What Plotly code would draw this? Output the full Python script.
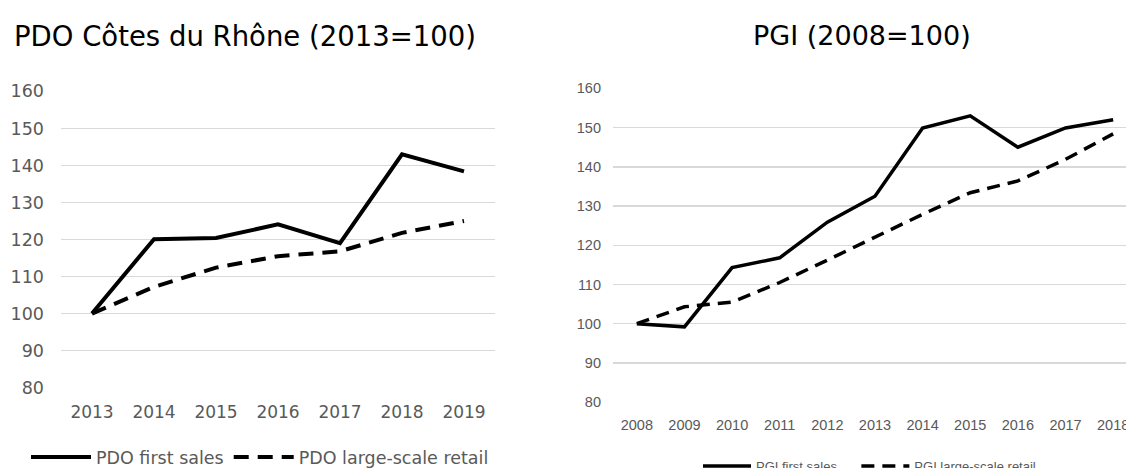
import plotly.graph_objects as go

# ---- data ----
pdo_years = ["2013", "2014", "2015", "2016", "2017", "2018", "2019"]
pdo_first_sales = [100, 120.1, 120.4, 124.1, 119.0, 143.0, 138.4]
pdo_large_retail = [100, 107.2, 112.4, 115.5, 116.8, 121.8, 125.0]

pgi_years = ["2008", "2009", "2010", "2011", "2012", "2013", "2014", "2015", "2016", "2017", "2018"]
pgi_first_sales = [100, 99.2, 114.3, 116.8, 125.9, 132.5, 149.9, 153.0, 145.0, 149.9, 152.0]
pgi_large_retail = [100, 104.3, 105.5, 110.5, 116.2, 122.0, 127.9, 133.4, 136.4, 141.9, 148.4]

y_ticks = [80, 90, 100, 110, 120, 130, 140, 150, 160]

left_title = "PDO Côtes du Rhône (2013=100)"
right_title = "PGI (2008=100)"

W, H = 1126, 468
FONT_L = "DejaVu Sans, Verdana, sans-serif"
FONT_R = "Liberation Sans Narrow, Liberation Sans, sans-serif"
GRAY = "#595959"
GRID = "#d9d9d9"
NBSP = "\u00a0"

fig = go.Figure()

fig.add_trace(go.Scatter(x=pdo_years, y=pdo_first_sales, mode="lines", name="PDO first sales",
                         line=dict(color="black", width=4), xaxis="x", yaxis="y", legend="legend"))
fig.add_trace(go.Scatter(x=pdo_years, y=pdo_large_retail, mode="lines", name="PDO large-scale retail",
                         line=dict(color="black", width=4, dash="15px,9px"), xaxis="x", yaxis="y", legend="legend"))
fig.add_trace(go.Scatter(x=pgi_years, y=pgi_first_sales, mode="lines", name="PGI first sales" + NBSP * 4,
                         line=dict(color="black", width=3.5), xaxis="x2", yaxis="y2", legend="legend2"))
fig.add_trace(go.Scatter(x=pgi_years, y=pgi_large_retail, mode="lines", name="PGI large-scale retail",
                         line=dict(color="black", width=3.5, dash="13px,8px"), xaxis="x2", yaxis="y2", legend="legend2"))

def px_x(p):
    return p / W

def px_y(p):
    return (H - p) / H

fig.update_layout(
    width=W, height=H,
    margin=dict(l=0, r=0, t=0, b=0, autoexpand=False),
    paper_bgcolor="white", plot_bgcolor="white",
    showlegend=True,
    xaxis=dict(domain=[px_x(61), px_x(495)], type="category", range=[-0.5, 6.5],
               showgrid=False, zeroline=False, showline=False, ticks="",
               tickfont=dict(family=FONT_L, size=17, color=GRAY), ticklabelstandoff=12,
               anchor="y", fixedrange=True),
    yaxis=dict(domain=[px_y(388), px_y(91)], range=[79.9, 160.1], tickvals=y_ticks,
               showgrid=True, gridcolor=GRID, gridwidth=1.5, zeroline=False, showline=False, ticks="",
               tickfont=dict(family=FONT_L, size=17.5, color=GRAY), ticklabelstandoff=16,
               anchor="x", fixedrange=True),
    xaxis2=dict(domain=[px_x(613), 1.0], type="category", range=[-0.5, 10.27],
                showgrid=False, zeroline=False, showline=False, ticks="",
                tickfont=dict(family=FONT_R, size=14.5, color=GRAY), ticklabelstandoff=12,
                anchor="y2", fixedrange=True),
    yaxis2=dict(domain=[px_y(402.5), px_y(88)], range=[79.9, 160.1], tickvals=y_ticks,
                showgrid=True, gridcolor=GRID, gridwidth=1.5, zeroline=False, showline=False, ticks="",
                tickfont=dict(family=FONT_R, size=14.5, color=GRAY), ticklabelstandoff=11,
                anchor="x2", fixedrange=True),
    legend=dict(orientation="h", x=px_x(26), y=px_y(457), xanchor="left", yanchor="middle",
                font=dict(family=FONT_L, size=17.5, color=GRAY), bgcolor="rgba(0,0,0,0)",
                itemwidth=60, tracegroupgap=0),
    legend2=dict(orientation="h", x=px_x(698), y=px_y(466), xanchor="left", yanchor="middle",
                 font=dict(family=FONT_R, size=13, color=GRAY), bgcolor="rgba(0,0,0,0)",
                 itemwidth=48, tracegroupgap=0),
    annotations=[
        dict(text=left_title, x=px_x(245), y=px_y(36), xref="paper", yref="paper",
             showarrow=False, xanchor="center", yanchor="middle",
             font=dict(family=FONT_L, size=27.5, color="black")),
        dict(text=right_title, x=px_x(862), y=px_y(36), xref="paper", yref="paper",
             showarrow=False, xanchor="center", yanchor="middle",
             font=dict(family=FONT_L, size=27, color="black")),
    ],
)

fig.write_html(
    "out.html",
    config={"displayModeBar": False, "staticPlot": True},
    post_script="document.body.style.margin='0';document.body.style.overflow='hidden';",
)
